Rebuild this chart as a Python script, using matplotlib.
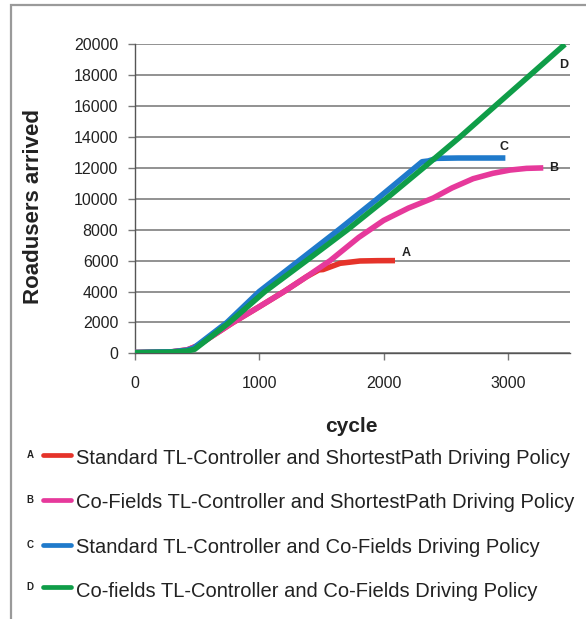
import matplotlib
matplotlib.use("Agg")
import matplotlib.pyplot as plt
from matplotlib.lines import Line2D
from matplotlib.patches import Rectangle

plt.rcParams['font.family'] = ['Liberation Sans', 'DejaVu Sans']

# ---- data ----
a_cycle = [0, 300, 420, 500, 790, 1000, 1200, 1381, 1480, 1513, 1650, 1810, 1950, 2092]
a_value = [50, 100, 220, 480, 2000, 3016, 4000, 4960, 5400, 5420, 5825, 5975, 5995, 6000]

b_cycle = [0, 300, 420, 500, 790, 1000, 1200, 1381, 1570, 1800, 2000, 2200, 2400, 2550, 2720, 2880, 3017, 3150, 3285]
b_value = [50, 100, 220, 480, 2000, 3016, 4000, 4960, 6000, 7500, 8600, 9400, 10050, 10700, 11300, 11650, 11860, 11970, 12000]

c_cycle = [0, 300, 420, 470, 740, 1000, 1320, 1640, 1950, 2160, 2310, 2360, 2427, 2600, 2980]
c_value = [50, 100, 200, 330, 2000, 4000, 6000, 8000, 10000, 11400, 12400, 12450, 12620, 12640, 12640]

d_cycle = [0, 300, 420, 480, 760, 1046, 1380, 1710, 2020, 2320, 2615, 2896, 3178, 3459]
d_value = [40, 80, 150, 260, 2000, 4000, 6000, 8000, 10000, 12000, 14000, 16000, 18000, 20000]

series_letters = ['A', 'B', 'C', 'D']
series_labels = [
    'Standard TL-Controller and ShortestPath Driving Policy',
    'Co-Fields TL-Controller and ShortestPath Driving Policy',
    'Standard TL-Controller and Co-Fields Driving Policy',
    'Co-fields TL-Controller and Co-Fields Driving Policy',
]
series_colors = ['#e5332a', '#e6399b', '#1f7acb', '#0f9d48']
end_label_pos = [(2180, 6470), (3366, 11975), (2971, 13330), (3446, 18660)]

yticks = list(range(0, 20001, 2000))
xticks = [0, 1000, 2000, 3000]

W, H = 586, 619
def fx(px):
    return px / W
def fy(py):
    return 1 - py / H

fig = plt.figure(figsize=(W / 100, H / 100), dpi=100)
fig.patch.set_facecolor('white')

# outer frame
fig.add_artist(Rectangle((fx(11), -0.05), 1.2, fy(5) + 0.05, transform=fig.transFigure,
                         fill=False, ec='#9a9a9a', lw=1.6, clip_on=False))

left, right, top, bottom = 135, 570, 44.3, 353.3
ax = fig.add_axes([fx(left), fy(bottom), (right - left) / W, (bottom - top) / H])

data = [(a_cycle, a_value), (b_cycle, b_value), (c_cycle, c_value), (d_cycle, d_value)]
for (xs, ys), col in zip(data, series_colors):
    ax.plot(xs, ys, color=col, lw=4.0, solid_capstyle='butt', solid_joinstyle='round', zorder=3)

for letter, (lx, ly) in zip(series_letters, end_label_pos):
    ax.text(lx, ly, letter, fontsize=9, fontweight='bold', ha='center', va='center',
            color='#222222', zorder=4)

ax.set_xlim(0, 3500)
ax.set_ylim(0, 20000)
ax.set_xticks(xticks)
ax.set_yticks(yticks)
ax.set_xticklabels([str(v) for v in xticks])
ax.set_yticklabels([str(v) for v in yticks])
ax.tick_params(axis='y', direction='out', length=5, width=1, color='#777777',
               labelsize=11.5, pad=7, labelcolor='#222222')
ax.tick_params(axis='x', direction='out', length=5, width=1, color='#777777',
               labelsize=11.5, pad=11, labelcolor='#222222')
ax.yaxis.grid(True, color='#747474', lw=1.1)
ax.set_axisbelow(True)
for s in ['top', 'right']:
    ax.spines[s].set_visible(False)
ax.spines['left'].set_color('#555555')
ax.spines['bottom'].set_color('#555555')
ax.spines['left'].set_linewidth(1.0)
ax.spines['bottom'].set_linewidth(1.0)

ax.set_ylabel('Roadusers arrived', fontsize=16, fontweight='bold', color='#222222')
ax.yaxis.set_label_coords((44 - left) / (right - left), (bottom - 207) / (bottom - top))
ax.set_xlabel('cycle', fontsize=15, fontweight='bold', color='#222222')
ax.xaxis.set_label_coords((351 - left) / (right - left), (bottom - 417) / (bottom - top))

# legend (manual)
line_y = [455, 500, 545, 587]
text_base = [464, 508, 553, 597]
for letter, lab, col, ly, tb in zip(series_letters, series_labels, series_colors, line_y, text_base):
    fig.text(fx(30), fy(ly), letter, fontsize=7, fontweight='bold', ha='center', va='center',
             color='#222222')
    fig.add_artist(Line2D([fx(43), fx(71)], [fy(ly), fy(ly)], transform=fig.transFigure,
                          color=col, lw=3.4, solid_capstyle='round'))
    fig.text(fx(76), fy(tb), lab, fontsize=14.5, ha='left', va='baseline', color='#222222')

fig.savefig('out.png', dpi=100)
